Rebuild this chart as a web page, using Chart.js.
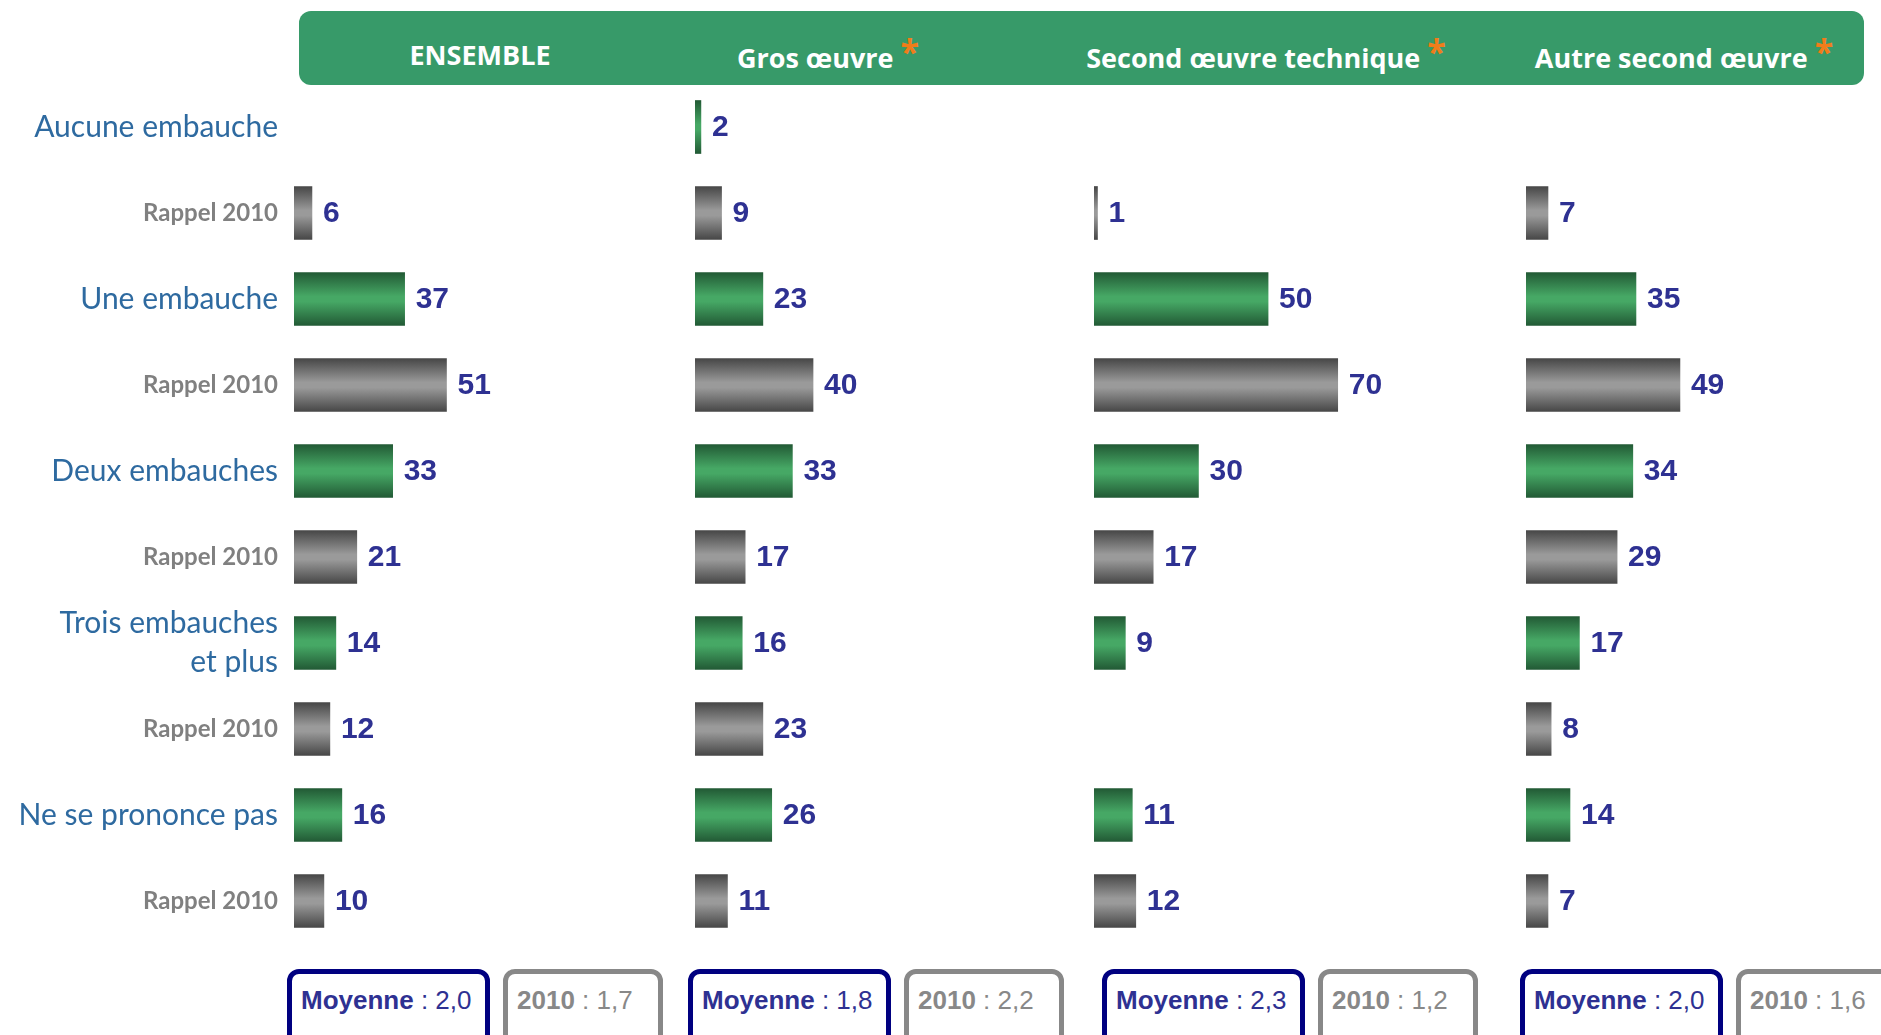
<!DOCTYPE html>
<html>
<head>
<meta charset="utf-8">
<script src="https://cdn.jsdelivr.net/npm/chart.js@4/dist/chart.umd.min.js"></script>
<style>
  body { margin: 0; background: #fff; width: 1881px; height: 1035px; overflow: hidden; position: relative; font-family: "Liberation Sans", Arial, sans-serif; }
  #header { position: absolute; left: 299px; top: 11px; width: 1565px; height: 74px; background: #379a69; border-radius: 12px; }
  .head { position: absolute; top: 18px; height: 74px; line-height: 74px; color: #fff; font-family: "Open Sans", sans-serif; font-weight: bold; font-size: 27px; white-space: nowrap; transform: translateX(-50%); }
  .head span { color: #f07d1a; font-size: 34px; position: relative; top: -4px; }
  .cv { position: absolute; top: 84px; height: 860px; }
  .box { position: absolute; top: 969px; height: 80px; box-sizing: border-box; border: 5px solid #000080; border-radius: 12px; font-size: 26px; padding: 11px 0 0 9px; color: #2e3192; white-space: nowrap; }
  .box.old { border-color: #888; color: #888; }
</style>
</head>
<body>
<div id="header"></div>
<div class="head" style="left:480px">ENSEMBLE</div>
<div class="head" style="left:828px">Gros œuvre <span>*</span></div>
<div class="head" style="left:1266px">Second œuvre technique <span>*</span></div>
<div class="head" style="left:1684px">Autre second œuvre <span>*</span></div>

<div class="cv" style="left:0;width:654px"><canvas id="c0"></canvas></div>
<div class="cv" style="left:695px;width:360px"><canvas id="c1"></canvas></div>
<div class="cv" style="left:1094px;width:360px"><canvas id="c2"></canvas></div>
<div class="cv" style="left:1526px;width:355px"><canvas id="c3"></canvas></div>

<div id="boxes"></div>

<script>
// categories (each followed by a "Rappel 2010" row)
var categories = ['Aucune embauche', 'Une embauche', 'Deux embauches', ['Trois embauches', 'et plus'], 'Ne se prononce pas'];
var rappel = 'Rappel 2010';

// values in %, 2012 and 2010 recall, per panel
var ensemble2012 = [null, 37, 33, 14, 16];
var ensemble2010 = [6, 51, 21, 12, 10];
var gros2012 = [2, 23, 33, 16, 26];
var gros2010 = [9, 40, 17, 23, 11];
var second2012 = [null, 50, 30, 9, 11];
var second2010 = [1, 70, 17, null, 12];
var autre2012 = [null, 35, 34, 17, 14];
var autre2010 = [7, 49, 29, 8, 7];

// averages
var moyenne2012 = ['2,0', '1,8', '2,3', '2,0'];
var moyenne2010 = ['1,7', '2,2', '1,2', '1,6'];

var labels = [];
categories.forEach(function (c) { labels.push(c); labels.push(rappel); });

function interleave(a, b) {
    var out = [];
    for (var i = 0; i < a.length; i++) { out.push(a[i]); out.push(b[i]); }
    return out;
}

function barColor(context) {
    var chart = context.chart;
    var ys = chart.scales.y;
    var isOld = context.dataIndex % 2 === 1;
    var dark = isOld ? '#474747' : '#225a35';
    var mid = isOld ? '#9a9a9a' : '#46a865';
    if (!ys) return mid;
    var c = ys.getPixelForValue(context.dataIndex);
    if (!isFinite(c)) return mid;
    var h = 26.5;
    var g = chart.ctx.createLinearGradient(0, c - h, 0, c + h);
    g.addColorStop(0, dark);
    g.addColorStop(0.45, mid);
    g.addColorStop(0.55, mid);
    g.addColorStop(1, dark);
    return g;
}

var valueLabels = {
    id: 'valueLabels',
    afterDatasetsDraw: function (chart) {
        var ctx = chart.ctx;
        var meta = chart.getDatasetMeta(0);
        var data = chart.data.datasets[0].data;
        ctx.save();
        ctx.font = 'bold 30px "Liberation Sans", Arial, sans-serif';
        ctx.fillStyle = '#2e3192';
        ctx.textBaseline = 'middle';
        ctx.textAlign = 'left';
        meta.data.forEach(function (bar, i) {
            if (data[i] === null) return;
            ctx.fillText(data[i], bar.x + 11, bar.y + 1);
        });
        ctx.restore();
    }
};

var panels = [
    { id: 'c0', a: ensemble2012, b: ensemble2010, max: 120.4, axis: true },
    { id: 'c1', a: gros2012, b: gros2010, max: 122 },
    { id: 'c2', a: second2012, b: second2010, max: 103.4 },
    { id: 'c3', a: autre2012, b: autre2010, max: 113 }
];

panels.forEach(function (p) {
    var ctx = document.getElementById(p.id).getContext('2d');
    var chart = new Chart(ctx, {
        type: 'bar',
        data: {
            labels: labels,
            datasets: [{
                data: interleave(p.a, p.b),
                backgroundColor: barColor,
                borderWidth: 0,
                barThickness: 53
            }]
        },
        options: {
            indexAxis: 'y',
            responsive: true,
            maintainAspectRatio: false,
            animation: false,
            layout: { padding: 0 },
            plugins: { legend: { display: false }, tooltip: { enabled: false } },
            scales: {
                x: { display: false, min: 0, max: p.max },
                y: {
                    display: !!p.axis,
                    grid: { display: false, drawTicks: false },
                    border: { display: false },
                    afterFit: function (scale) {
                        if (!p.axis) return;
                        scale.width = 294;
                        scale.paddingTop = 0;
                        scale.paddingBottom = 0;
                    },
                    ticks: {
                        padding: 16,
                        color: function (c) { return c.index % 2 ? '#808080' : '#2e6aa0'; },
                        font: function (c) {
                            return c.index % 2
                                ? { family: 'Lato', size: 24, weight: 'bold', lineHeight: 1.2 }
                                : { family: 'Lato', size: 30, weight: 'normal', lineHeight: 1.3 };
                        }
                    }
                }
            }
        },
        plugins: [valueLabels]
    });
    // second pass so the gradients use the laid-out scale
    chart.update('none');
});

// average boxes
var boxLefts = [287, 688, 1102, 1520];
var boxes = document.getElementById('boxes');
moyenne2012.forEach(function (m, i) {
    var b = document.createElement('div');
    b.className = 'box';
    b.style.left = boxLefts[i] + 'px';
    b.style.width = '203px';
    b.innerHTML = '<b>Moyenne</b> : ' + m;
    boxes.appendChild(b);
    var o = document.createElement('div');
    o.className = 'box old';
    o.style.left = (boxLefts[i] + 216) + 'px';
    o.style.width = '160px';
    o.innerHTML = '<b>2010</b> : ' + moyenne2010[i];
    boxes.appendChild(o);
});
</script>
</body>
</html>
